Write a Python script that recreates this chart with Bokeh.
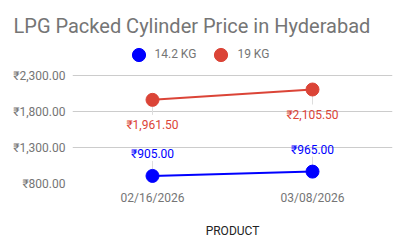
from bokeh.plotting import figure
from bokeh.models import (FactorRange, Range1d, FixedTicker, CustomJSTickFormatter,
                          Legend, LegendItem, Title)
from bokeh.core.properties import value
from bokeh.embed import file_html
from bokeh.resources import INLINE

dates = ["02/16/2026", "03/08/2026"]
kg14 = [905.00, 965.00]
kg19 = [1961.50, 2105.50]
kg14_labels = ["₹905.00", "₹965.00"]
kg19_labels = ["₹1,961.50", "₹2,105.50"]
series_names = ["14.2 KG", "19 KG"]
y_ticks = [800, 1300, 1800, 2300]
title_text = "LPG Packed Cylinder Price in Hyderabad"

FONT = "Roboto"
GREY = "#757575"
BLUE = "#0000ff"
RED = "#db4437"

# layout (pixels)
W, H = 404, 250
FRAME_TOP, FRAME_BOTTOM, GRID_TOP = 38, 183, 75
FRAME_LEFT, FRAME_RIGHT = 72, 392
# the frame also holds the legend band above the plotting area
units_per_px = (y_ticks[-1] - y_ticks[0]) / (FRAME_BOTTOM - GRID_TOP)
y_end = y_ticks[0] + (FRAME_BOTTOM - FRAME_TOP) * units_per_px

p = figure(width=W, height=H, output_backend="svg", toolbar_location=None,
           x_range=FactorRange(factors=dates, range_padding=0),
           y_range=Range1d(y_ticks[0], y_end), title_location=None,
           min_border_left=FRAME_LEFT, min_border_right=W - FRAME_RIGHT,
           min_border_top=FRAME_TOP, min_border_bottom=H - FRAME_BOTTOM)
p.outline_line_color = None

p.add_layout(Title(text=title_text, align="left", offset=13 - FRAME_LEFT,
                   text_font=FONT, text_font_size="20px", text_color=GREY,
                   text_font_style="normal", standoff=1), "above")

p.yaxis.ticker = FixedTicker(ticks=y_ticks)
p.yaxis.formatter = CustomJSTickFormatter(code="return '\u20b9' + tick.toLocaleString('en-US', {minimumFractionDigits: 2, maximumFractionDigits: 2});")
for ax in (p.xaxis[0], p.yaxis[0]):
    ax.axis_line_color = None
    ax.major_tick_line_color = None
    ax.minor_tick_line_color = None
    ax.major_tick_in = 0
    ax.major_tick_out = 0
    ax.major_label_text_font = FONT
    ax.major_label_text_font_size = "12px"
    ax.major_label_text_color = GREY
    ax.major_label_standoff = 7
p.xaxis.axis_label = "PRODUCT"
p.xaxis.axis_label_text_font = FONT
p.xaxis.axis_label_text_font_size = "12px"
p.xaxis.axis_label_text_font_style = "normal"
p.xaxis.axis_label_text_color = "#222222"
p.xaxis.axis_label_standoff = 16
p.xgrid.grid_line_color = None
p.ygrid.ticker = FixedTicker(ticks=y_ticks)
p.ygrid.grid_line_color = "#cccccc"
p.ygrid.grid_line_width = 1

# stems from point to data label (15 px converted to data units)
stem = 15 * units_per_px
p.segment(x0=dates, y0=kg14, x1=dates, y1=[v + stem for v in kg14], line_color="#dddddd", line_width=1)
p.segment(x0=dates, y0=kg19, x1=dates, y1=[v - stem for v in kg19], line_color="#dddddd", line_width=1)

p.line(dates, kg14, line_color=BLUE, line_width=2)
p.line(dates, kg19, line_color=RED, line_width=2)
r14 = p.scatter(dates, kg14, size=13, fill_color=BLUE, line_color=BLUE)
r19 = p.scatter(dates, kg19, size=13, fill_color=RED, line_color=RED)

p.text(x=dates, y=kg14, text=kg14_labels, text_align="center", text_baseline="middle",
       y_offset=-22, text_font=value(FONT), text_font_size="12px", text_color=BLUE)
p.text(x=dates, y=kg19, text=kg19_labels, text_align="center", text_baseline="middle",
       y_offset=25, text_font=value(FONT), text_font_size="12px", text_color=RED)

# legend centred at y~54 px, first marker centred at x=138 px
legend = Legend(items=[LegendItem(label=series_names[0], renderers=[r14]),
                       LegendItem(label=series_names[1], renderers=[r19])],
                orientation="horizontal",
                location=(138 - 16.5 - FRAME_LEFT, FRAME_BOTTOM - 54.2 - 16.5),
                glyph_width=33, glyph_height=33, label_standoff=-1, spacing=8,
                padding=0, margin=0, border_line_color=None, background_fill_alpha=0,
                label_text_font=FONT, label_text_font_size="12px", label_text_color=GREY,
                label_height=12)
p.add_layout(legend, "center")

open("out.html", "w").write(file_html(p, INLINE))
